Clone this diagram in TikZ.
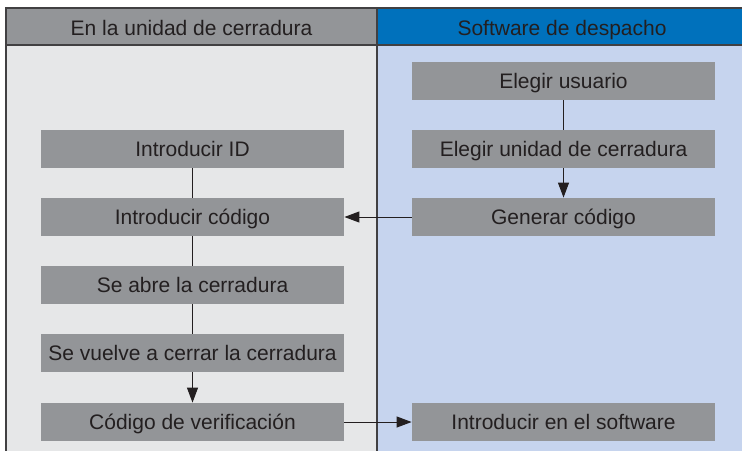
\documentclass[tikz,border=0pt]{standalone}
\usepackage{fontspec}
\setmainfont{Liberation Sans}
\usetikzlibrary{arrows.meta}

\definecolor{laneGray}{HTML}{E6E7E8}
\definecolor{laneBlue}{HTML}{C6D4EE}
\definecolor{headGray}{HTML}{939598}
\definecolor{headBlue}{HTML}{0071BC}
\definecolor{boxGray}{HTML}{939598}
\definecolor{ink}{HTML}{231F20}
\definecolor{frameInk}{HTML}{414042}

\tikzset{
  box/.style={fill=boxGray, text=ink, minimum width=151.5pt, minimum height=19pt,
              inner sep=0pt, text height=7.6pt, text depth=0pt,
              font=\fontsize{10.5}{12}\selectfont},
  head/.style={text=ink, inner sep=0pt, text height=7.6pt, text depth=0pt,
               font=\fontsize{10.5}{12}\selectfont},
  frame/.style={draw=frameInk, line width=0.65pt},
  flow/.style={draw=ink, line width=0.5pt},
  flowarrow/.style={flow, -{Triangle[length=7.5pt, width=5.5pt]}},
}

\begin{document}
\begin{tikzpicture}[x=0.5pt, y=-0.5pt]
\useasboundingbox (0,0) rectangle (742,450);
\clip (0,0) rectangle (742,450);
\fill[laneGray] (6,45) rectangle (377,470);
\fill[laneBlue] (377,45) rectangle (760,470);
\fill[headGray] (6,8) rectangle (377,45);
\fill[headBlue] (377,8) rectangle (760,45);
\draw[frame] (6,470) -- (6,8) -- (760,8);
\draw[frame] (6,45) -- (760,45);
\draw[frame] (377,8) -- (377,470);
\node[head] (unidad) at (191.5,27.5) {En la unidad de cerradura};
\node[head] (despacho) at (562,27.5) {Software de despacho};

\node[box] (usuario)  at (563.5,81)  {Elegir usuario};
\node[box] (elegir)   at (563.5,149) {Elegir unidad de cerradura};
\node[box] (generar)  at (563.5,217) {Generar código};
\node[box] (software) at (563.5,422) {Introducir en el software};

\node[box] (id)     at (192.5,149) {Introducir ID};
\node[box] (codigo) at (192.5,217) {Introducir código};
\node[box] (abre)   at (192.5,285) {Se abre la cerradura};
\node[box] (vuelve) at (192.5,353) {Se vuelve a cerrar la cerradura};
\node[box] (verif)  at (192.5,422) {Código de verificación};

\draw[flow] (usuario) -- (elegir);
\draw[flowarrow] (elegir) -- (generar);
\draw[flowarrow] (generar) -- (codigo);
\draw[flow] (id) -- (codigo);
\draw[flow] (codigo) -- (abre);
\draw[flow] (abre) -- (vuelve);
\draw[flowarrow] (vuelve) -- (verif);
\draw[flowarrow] (verif) -- (software);
\end{tikzpicture}
\end{document}
